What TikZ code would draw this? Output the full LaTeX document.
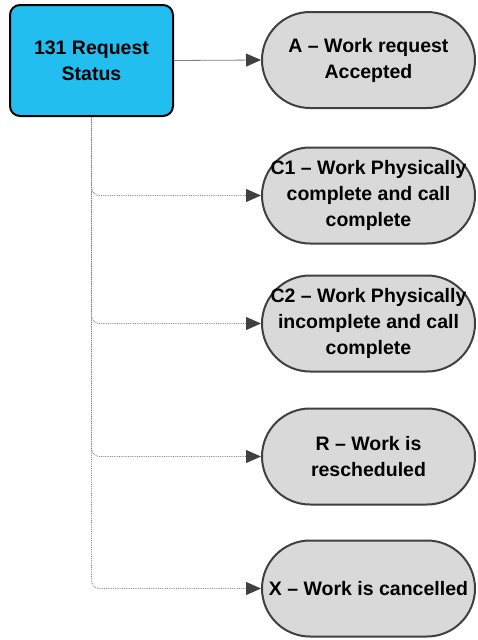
\documentclass[tikz,border=0pt]{standalone}
\usepackage{fontspec}
\setmainfont{Liberation Sans}
\usetikzlibrary{arrows.meta}
\definecolor{boxblue}{HTML}{22BEF0}
\definecolor{stadgray}{HTML}{D9D9D9}
\definecolor{edgegray}{HTML}{404040}
\definecolor{linegray}{HTML}{808080}
\begin{document}
\begin{tikzpicture}[x=1pt,y=-1pt,
 lbl/.style={font=\bfseries\fontsize{19.5}{26}\selectfont, align=center, text=black},
 mainbox/.style={lbl, draw=black, line width=2pt, fill=boxblue, rounded corners=10pt, minimum width=163pt, minimum height=111pt, inner sep=0pt},
 stad/.style={lbl, draw=edgegray, line width=2pt, fill=stadgray, rounded corners=48pt, minimum width=213pt, minimum height=96pt, inner sep=0pt},
 conn/.style={draw=linegray, line width=0.8pt, -{Triangle[length=15pt,width=13pt,fill=edgegray,color=edgegray]}},
 branch/.style={conn, densely dotted, rounded corners=8pt},
 ]
\useasboundingbox (0,0) rectangle (477,640);
\node[mainbox] (main) at (91.5,60.5) {131 Request\\Status};
\node[stad] (A) at (368.5,60) {A -- Work request\\Accepted};
\node[stad] (C1) at (368.5,195.5) {C1 -- Work Physically\\complete and call\\complete};
\node[stad] (C2) at (368.5,323.5) {C2 -- Work Physically\\incomplete and call\\complete};
\node[stad] (R) at (368.5,456.5) {R -- Work is\\rescheduled};
\node[stad] (X) at (368.5,588.5) {X -- Work is cancelled};
\draw[conn] (main.east) -- (A.west);
\draw[branch] (main.south) |- (C1.west);
\draw[branch] (main.south) |- (C2.west);
\draw[branch] (main.south) |- (R.west);
\draw[branch] (main.south) |- (X.west);
\end{tikzpicture}
\end{document}
